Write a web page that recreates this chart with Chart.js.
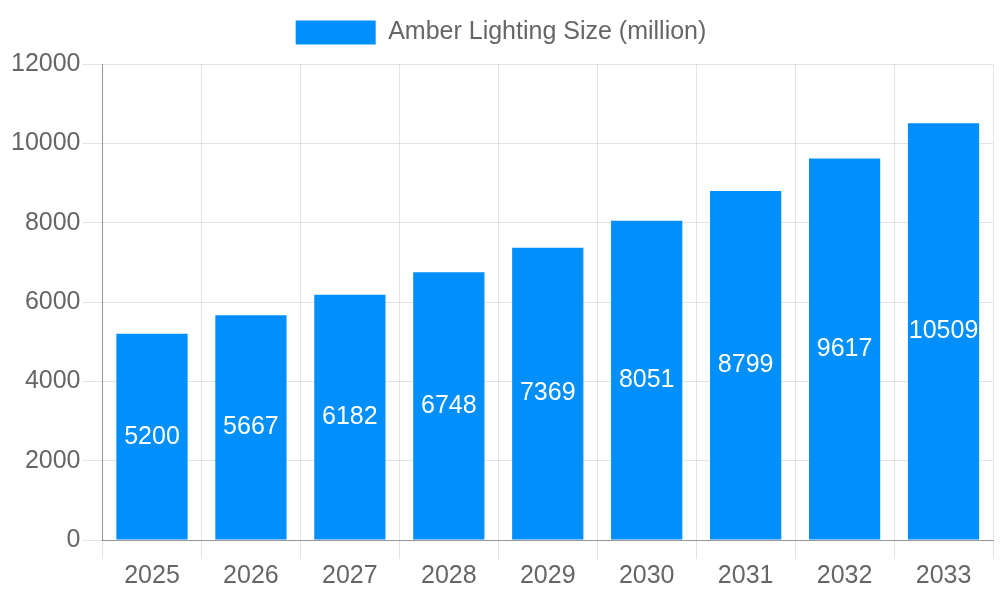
<!DOCTYPE html>
<html>
<head>
<meta charset="utf-8">
<script src="https://cdn.jsdelivr.net/npm/chart.js@4"></script>
<style>
  html, body { margin: 0; padding: 0; background: #fff; }
  #wrap { width: 1000px; height: 600px; }
</style>
</head>
<body>
<div id="wrap"><canvas id="sizeChart"></canvas></div>
<script>
const years = ['2025', '2026', '2027', '2028', '2029', '2030', '2031', '2032', '2033'];
const sizes = [5200, 5667, 6182, 6748, 7369, 8051, 8799, 9617, 10509];
const seriesName = 'Amber Lighting Size (million)';

// white value labels in the middle of each bar
const barLabels = {
    id: 'barLabels',
    afterDatasetsDraw(chart) {
        const ctx = chart.ctx;
        const meta = chart.getDatasetMeta(0);
        ctx.save();
        ctx.fillStyle = '#fff';
        ctx.font = "25px 'Liberation Sans', Arial, sans-serif";
        ctx.textAlign = 'center';
        ctx.textBaseline = 'middle';
        meta.data.forEach((bar, i) => {
            const mid = (bar.y + bar.base) / 2;
            ctx.fillText(String(sizes[i]), bar.x, mid);
        });
        ctx.restore();
    }
};

// a bit more room under the legend
const legendGap = {
    id: 'legendGap',
    beforeInit(chart) {
        const fit = chart.legend.fit;
        chart.legend.fit = function() {
            fit.bind(chart.legend)();
            this.height += 9;
        };
    }
};

Chart.defaults.font.family = "'Liberation Sans', Arial, sans-serif";
Chart.defaults.font.size = 25;
Chart.defaults.color = '#666';

new Chart(document.getElementById('sizeChart'), {
    type: 'bar',
    data: {
        labels: years,
        datasets: [{
            label: seriesName,
            data: sizes,
            backgroundColor: '#008ffb',
            borderWidth: 0
        }]
    },
    options: {
        responsive: true,
        maintainAspectRatio: false,
        animation: false,
        layout: { padding: { left: 9, right: 7, top: 10, bottom: 7 } },
        scales: {
            x: {
                grid: { color: 'rgba(0,0,0,0.11)', tickLength: 19 },
                border: { color: 'rgba(0,0,0,0.35)' },
                ticks: { padding: 2 }
            },
            y: {
                min: 0,
                max: 12000,
                grid: { color: 'rgba(0,0,0,0.11)', tickLength: 20 },
                border: { color: 'rgba(0,0,0,0.35)' },
                ticks: {
                    stepSize: 2000,
                    padding: 2,
                    callback: v => String(v)
                }
            }
        },
        plugins: {
            legend: {
                labels: { boxWidth: 80, boxHeight: 24, padding: 10 }
            },
            tooltip: { enabled: false }
        }
    },
    plugins: [barLabels, legendGap]
});
</script>
</body>
</html>
